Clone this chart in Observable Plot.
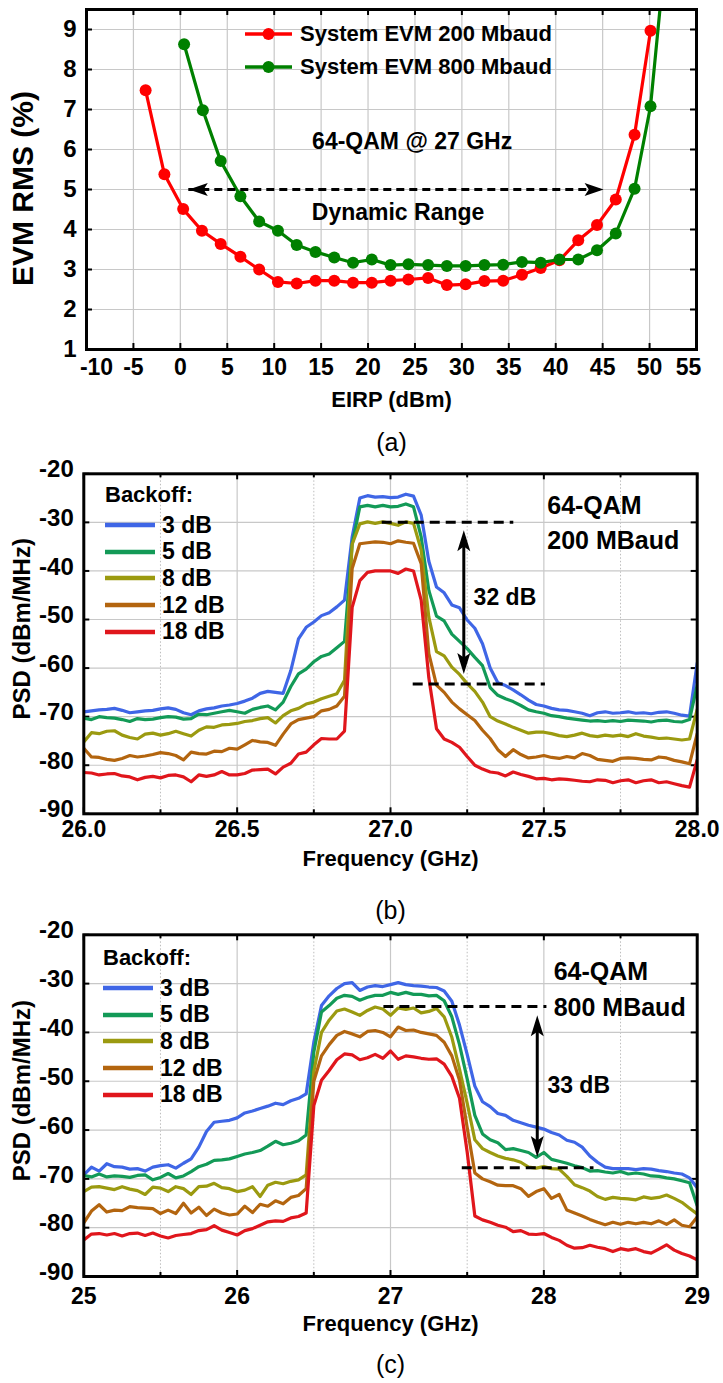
<!DOCTYPE html>
<html><head><meta charset="utf-8">
<script src="https://cdn.jsdelivr.net/npm/d3@7"></script>
<script src="https://cdn.jsdelivr.net/npm/@observablehq/plot@0.6"></script>
<style>
body{margin:0;background:#fff;}
#wrap{position:relative;width:723px;height:1383px;overflow:hidden;background:#fff;}
</style></head>
<body><div id="wrap"></div>
<script>
// ---------------- Panel (a) data ----------------
const eirp200 = [-3.7,-1.7,0.3,2.3,4.3,6.4,8.4,10.4,12.4,14.4,16.4,18.4,20.4,22.4,24.3,26.4,28.4,30.4,32.4,34.4,36.4,38.4,40.4,42.4,44.4,46.4,48.4,50.1];
const evm200 = [7.48,5.38,4.51,3.97,3.64,3.32,3.0,2.69,2.65,2.72,2.72,2.67,2.67,2.72,2.75,2.79,2.61,2.63,2.71,2.72,2.87,3.04,3.23,3.73,4.11,4.75,6.37,8.97];
const eirp800 = [0.4,2.4,4.3,6.4,8.4,10.4,12.4,14.4,16.4,18.4,20.4,22.4,24.3,26.4,28.4,30.4,32.4,34.4,36.4,38.4,40.4,42.4,44.4,46.4,48.4,50.1,52.1];
const evm800 = [8.63,6.98,5.71,4.83,4.2,3.97,3.61,3.44,3.3,3.17,3.25,3.11,3.13,3.11,3.09,3.09,3.11,3.12,3.19,3.17,3.25,3.25,3.48,3.9,5.02,7.08,11.9];
const seriesNamesA = ["System EVM 200 Mbaud", "System EVM 800 Mbaud"];
const xTicksA = [-10,-5,0,5,10,15,20,25,30,35,40,45,50,55];
const yTicksA = [1,2,3,4,5,6,7,8,9];
const dynRangeX = [0.9, 45.1];
const dynRangeEVM = 5;

// ---------------- Panel (b) data ----------------
const freqB = [26,26.025,26.05,26.075,26.1,26.125,26.15,26.175,26.2,26.225,
 26.25,26.275,26.3,26.325,26.35,26.375,26.4,26.425,26.45,26.475,
 26.5,26.525,26.55,26.575,26.6,26.625,26.65,26.675,26.7,26.725,
 26.75,26.775,26.8,26.825,26.85,26.875,26.9,26.925,26.95,26.975,
 27,27.025,27.05,27.075,27.1,27.125,27.15,27.175,27.2,27.225,
 27.25,27.275,27.3,27.325,27.35,27.375,27.4,27.425,27.45,27.475,
 27.5,27.525,27.55,27.575,27.6,27.625,27.65,27.675,27.7,27.725,
 27.75,27.775,27.8,27.825,27.85,27.875,27.9,27.925,27.95,27.975,28];
const psdB3 = [-69.0,-68.8,-68.6,-68.5,-68.3,-68.7,-69.2,-69.0,-68.8,-68.7,
 -68.4,-68.2,-68.5,-69.2,-69.6,-68.8,-68.4,-68.2,-67.8,-67.6,
 -67.3,-66.8,-66.2,-65.2,-64.8,-65.0,-65.2,-60.5,-54.0,-51.6,
 -50.5,-49.2,-48.6,-47.4,-46.0,-33.0,-25.0,-24.5,-24.8,-24.7,
 -24.9,-24.8,-24.2,-24.6,-28.5,-38.0,-43.3,-44.5,-47.0,-47.6,
 -50.1,-51.8,-55.0,-60.0,-63.0,-63.6,-64.5,-65.5,-66.6,-67.5,
 -67.8,-68.3,-68.6,-68.7,-69.0,-69.3,-69.8,-69.2,-69.0,-69.3,
 -69.2,-69.0,-69.3,-69.2,-69.4,-69.1,-69.0,-69.3,-69.7,-69.9,-59.0];
const psdB5 = [-70.3,-70.6,-70.0,-70.2,-70.3,-70.6,-71.0,-70.4,-70.6,-70.5,
 -70.2,-70.0,-70.1,-70.5,-70.4,-69.5,-69.6,-69.3,-69.0,-68.7,
 -69.0,-69.3,-68.5,-68.1,-67.8,-68.6,-67.0,-63.8,-61.2,-60.2,
 -58.7,-57.6,-57.1,-55.8,-54.5,-34.5,-26.8,-26.5,-26.8,-26.5,
 -26.8,-26.7,-26.2,-26.8,-33.0,-44.0,-49.3,-50.3,-53.0,-54.5,
 -56.0,-57.8,-59.5,-64.0,-65.6,-66.3,-66.9,-67.7,-68.6,-69.0,
 -69.3,-69.8,-70.0,-70.3,-70.5,-70.7,-70.9,-70.8,-71.0,-70.8,
 -71.0,-70.7,-70.8,-70.9,-71.1,-70.8,-70.7,-71.0,-71.1,-70.6,-63.5];
const psdB8 = [-75.2,-73.3,-73.5,-73.0,-72.9,-73.8,-74.3,-74.6,-73.6,-73.4,
 -73.8,-73.5,-73.0,-73.5,-74.0,-72.8,-72.1,-72.2,-71.7,-71.6,
 -71.4,-71.0,-70.8,-70.4,-70.2,-71.3,-69.8,-68.8,-68.3,-67.4,
 -67.0,-66.3,-65.8,-65.3,-62.5,-34.5,-30.3,-29.9,-30.2,-29.9,
 -30.2,-30.6,-29.9,-30.2,-35.7,-49.5,-56.6,-57.5,-59.8,-61.3,
 -63.2,-64.8,-67.0,-70.0,-70.9,-71.5,-72.2,-72.8,-73.4,-73.2,
 -73.2,-73.5,-73.9,-74.1,-73.8,-73.4,-73.9,-74.1,-73.8,-74.0,
 -73.8,-74.1,-73.5,-74.0,-74.2,-74.5,-74.4,-74.6,-74.8,-74.6,-68.5];
const psdB12 = [-76.5,-78.3,-78.4,-78.8,-79.0,-78.6,-78.0,-78.3,-78.1,-77.8,
 -77.4,-77.6,-78.0,-78.9,-77.3,-77.6,-77.7,-77.1,-77.2,-76.5,
 -76.7,-75.8,-74.9,-75.2,-75.3,-75.9,-73.6,-71.5,-70.6,-70.3,
 -70.0,-68.8,-68.5,-67.8,-65.8,-39.5,-34.4,-34.2,-34.0,-34.1,
 -34.4,-33.8,-34.1,-34.3,-38.5,-57.0,-63.5,-65.0,-67.0,-68.4,
 -69.6,-70.8,-72.8,-74.5,-76.8,-78.2,-76.8,-77.8,-78.5,-78.3,
 -78.0,-78.4,-78.6,-78.2,-78.5,-77.6,-78.0,-78.8,-79.0,-79.2,
 -78.6,-78.5,-78.6,-78.8,-78.9,-78.3,-78.5,-79.0,-79.3,-79.7,-73.5];
const psdB18 = [-81.5,-81.6,-82.0,-81.8,-81.7,-82.2,-82.4,-83.0,-82.5,-82.3,
 -82.6,-82.1,-82.0,-82.4,-83.4,-82.0,-82.3,-82.0,-81.3,-82.0,
 -82.0,-81.7,-81.0,-80.9,-80.8,-81.8,-80.4,-79.6,-77.7,-77.3,
 -75.8,-74.5,-74.6,-74.6,-73.0,-47.5,-42.0,-40.3,-40.0,-40.0,
 -40.0,-40.5,-39.6,-40.0,-46.0,-62.0,-72.5,-74.6,-75.3,-76.3,
 -78.2,-80.0,-80.8,-81.4,-81.6,-82.2,-81.4,-81.9,-82.3,-82.8,
 -82.7,-83.0,-82.8,-82.9,-83.1,-83.3,-83.4,-83.0,-83.1,-83.6,
 -83.2,-83.0,-83.6,-83.2,-83.0,-83.6,-83.4,-83.8,-84.2,-84.5,-78.9];
const levelsB = [-30, -63.3];
const levelsBx1 = [26.973, 27.074];
const levelsBx2 = [27.402, 27.505];
const arrowBx = 27.239;
const arrowBy = [-31.6, -61.2];

// ---------------- Panel (c) data ----------------
const freqC = [25,25.05,25.1,25.15,25.2,25.25,25.3,25.35,25.4,25.45,
 25.5,25.55,25.6,25.65,25.7,25.75,25.8,25.85,25.9,25.95,
 26,26.05,26.1,26.15,26.2,26.25,26.3,26.35,26.4,26.45,
 26.5,26.55,26.6,26.65,26.7,26.75,26.8,26.85,26.9,26.95,
 27,27.05,27.1,27.15,27.2,27.25,27.3,27.35,27.4,27.45,
 27.5,27.55,27.6,27.65,27.7,27.75,27.8,27.85,27.9,27.95,
 28,28.05,28.1,28.15,28.2,28.25,28.3,28.35,28.4,28.45,
 28.5,28.55,28.6,28.65,28.7,28.75,28.8,28.85,28.9,28.95,29];
const psdC3 = [-69.2,-67.6,-68.4,-66.9,-67.5,-67.6,-68.0,-67.9,-68.4,-67.6,
 -67.3,-67.1,-67.8,-66.8,-65.9,-63.5,-60.3,-58.4,-58.2,-58.0,
 -57.5,-56.5,-56.1,-55.6,-55.1,-54.5,-54.8,-54.0,-53.5,-52.6,
 -42.0,-34.5,-32.5,-31.0,-30.0,-29.8,-31.4,-30.7,-30.4,-30.6,
 -30.2,-29.8,-30.2,-30.4,-30.5,-30.7,-30.8,-31.5,-33.6,-38.5,
 -44.5,-51.0,-54.2,-55.2,-56.6,-57.0,-58.0,-58.5,-59.0,-59.4,
 -59.8,-60.5,-61.0,-62.1,-62.5,-63.5,-65.3,-66.6,-67.6,-67.9,
 -67.9,-67.9,-68.1,-67.9,-68.0,-68.3,-68.5,-68.8,-69.0,-69.8,-71.8];
const psdC5 = [-69.3,-69.6,-69.0,-69.6,-69.4,-69.5,-69.7,-69.3,-69.2,-70.2,
 -69.7,-68.9,-69.8,-69.4,-68.5,-67.5,-67.0,-66.2,-66.1,-65.9,
 -65.4,-64.9,-64.6,-64.2,-63.3,-62.3,-63.0,-62.7,-62.2,-61.0,
 -44.0,-35.8,-34.5,-33.0,-32.4,-32.6,-33.4,-32.8,-32.4,-32.4,
 -31.8,-32.2,-31.8,-32.2,-32.2,-32.5,-32.4,-33.5,-36.8,-42.5,
 -49.5,-57.0,-60.8,-62.0,-62.6,-64.0,-63.8,-64.2,-64.6,-65.6,
 -64.6,-66.0,-66.4,-66.8,-67.3,-67.7,-68.4,-68.3,-68.6,-68.8,
 -68.5,-69.0,-68.8,-69.0,-69.4,-69.5,-69.8,-70.0,-70.4,-70.8,-75.5];
const psdC8 = [-72.6,-71.7,-71.6,-71.9,-72.2,-71.6,-72.1,-72.4,-73.2,-71.7,
 -71.9,-72.6,-71.6,-72.0,-73.2,-71.6,-71.5,-70.9,-71.8,-72.0,
 -72.6,-72.3,-71.6,-73.6,-71.3,-70.7,-71.0,-70.5,-70.2,-69.2,
 -48.0,-40.0,-37.5,-35.6,-35.2,-35.8,-36.5,-35.5,-34.8,-35.2,
 -36.5,-35.0,-35.3,-35.0,-36.0,-35.7,-35.1,-36.8,-41.0,-47.5,
 -54.5,-62.0,-63.8,-64.6,-65.3,-65.8,-66.1,-66.6,-67.6,-67.8,
 -67.5,-67.9,-68.0,-69.5,-71.2,-71.8,-72.5,-73.6,-74.2,-73.8,
 -74.0,-74.1,-74.3,-73.7,-74.0,-73.8,-73.3,-74.0,-74.8,-76.0,-77.2];
const psdC12 = [-79.0,-76.6,-75.3,-76.8,-76.4,-76.5,-75.7,-75.9,-76.0,-76.1,
 -77.1,-76.4,-77.1,-75.0,-77.0,-75.8,-77.5,-76.2,-77.0,-77.4,
 -77.2,-75.6,-76.9,-75.2,-75.6,-74.5,-75.1,-73.8,-73.4,-72.0,
 -50.0,-44.8,-42.5,-40.6,-39.8,-40.3,-40.9,-39.8,-39.6,-40.0,
 -40.9,-38.9,-39.6,-39.5,-40.0,-40.3,-40.6,-42.0,-44.8,-49.8,
 -59.5,-68.8,-70.0,-70.6,-71.3,-71.4,-71.4,-72.0,-73.6,-72.6,
 -72.0,-74.0,-73.2,-76.4,-77.0,-77.6,-78.3,-78.9,-79.4,-78.9,
 -79.3,-78.9,-79.2,-78.9,-79.2,-78.6,-79.3,-78.4,-79.5,-79.8,-77.8];
const psdC18 = [-82.5,-81.3,-81.2,-81.5,-81.2,-81.7,-81.2,-81.1,-81.6,-81.1,
 -81.7,-82.1,-81.6,-81.4,-81.2,-80.6,-80.4,-79.6,-80.5,-81.0,
 -81.5,-80.6,-80.2,-79.5,-78.8,-78.6,-78.7,-78.0,-77.7,-77.0,
 -55.0,-49.8,-47.8,-45.6,-44.4,-44.6,-45.6,-45.2,-44.5,-45.3,
 -43.8,-45.5,-44.8,-45.0,-45.3,-45.5,-45.4,-46.5,-49.0,-53.5,
 -64.5,-77.6,-78.4,-78.9,-79.5,-79.9,-80.8,-80.6,-81.3,-81.4,
 -81.2,-82.0,-82.6,-83.6,-84.2,-84.1,-83.6,-84.0,-84.3,-84.9,
 -84.3,-84.6,-84.3,-84.9,-85.2,-84.4,-83.5,-84.6,-85.3,-85.8,-86.6];
const levelsC = [-34.7, -67.7];
const levelsCx1 = [26.957, 27.468];
const levelsCx2 = [28.02, 28.327];
const arrowCx = 27.957;
const arrowCy = [-36.5, -65.5];

const backoffLabels = ["3 dB", "5 dB", "8 dB", "12 dB", "18 dB"];
const backoffColors = ["#3f66e6", "#139a57", "#9b9a10", "#b3650f", "#e0161c"];
const colorsA = ["#ff0000", "#008000"];

// ---------------- helpers ----------------
const FONT = '"Liberation Sans", Arial, Helvetica, sans-serif';
const W = 723;
const wrap = document.getElementById("wrap");
function place(el, top) {
  const d = document.createElement("div");
  d.style.cssText = `position:absolute;left:0;top:${top}px;`;
  d.appendChild(el);
  wrap.appendChild(d);
}
const headShape = {
  draw(ctx, l, r) {
    ctx.moveTo(0, -l);
    ctx.lineTo(r, 0);
    ctx.lineTo(0, -l * 0.22);
    ctx.lineTo(-r, 0);
    ctx.closePath();
  }
};
const gridColor = "#c8c8c8";
function frameTicks(xMajor, xMinor, yMajor, fw, fh) {
  const s = {stroke: "black", strokeWidth: 2};
  const marks = [
    Plot.ruleX(xMajor, {...s, insetTop: fh - 6}),
    Plot.ruleX(xMajor, {...s, insetBottom: fh - 6}),
    Plot.ruleY(yMajor, {...s, insetRight: fw - 6}),
    Plot.ruleY(yMajor, {...s, insetLeft: fw - 6})
  ];
  if (xMinor.length) {
    marks.push(Plot.ruleX(xMinor, {...s, insetTop: fh - 4}));
    marks.push(Plot.ruleX(xMinor, {...s, insetBottom: fh - 4}));
  }
  return marks;
}
function legendRow(cx, cy, lineW, gap, color, label, fontSize, withDot) {
  const row = document.createElement("div");
  row.style.cssText = `position:absolute;left:${cx}px;top:${cy - 15}px;height:30px;display:flex;align-items:center;font:bold ${fontSize}px ${FONT};white-space:nowrap;color:#000;`;
  const svg = d3.create("svg").attr("width", lineW).attr("height", 14).style("overflow", "visible").style("display", "block");
  svg.append("line").attr("x1", 0).attr("x2", lineW).attr("y1", 7).attr("y2", 7)
    .attr("stroke", color).attr("stroke-width", withDot ? 3.5 : 4.5);
  if (withDot) svg.append("circle").attr("cx", lineW / 2).attr("cy", 7).attr("r", 6).attr("fill", color);
  row.appendChild(svg.node());
  const span = document.createElement("span");
  span.textContent = label;
  span.style.marginLeft = gap + "px";
  row.appendChild(span);
  wrap.appendChild(row);
}
const xTickFont = {fontSize: 23, fontWeight: "bold", fontFamily: FONT};
const yTickFont = {fontSize: 24, fontWeight: "bold", fontFamily: FONT};
const titleStyle = {fontWeight: "bold", lineAnchor: "middle", textAnchor: "middle"};
const fmt = d => String(d);

// ---------------- Panel (a) ----------------
{
  const mL = 86, mR = 27, mT = 9, H = 455, mB = 106;
  const fw = W - mL - mR, fh = H - mT - mB;
  const d200 = eirp200.map((x, i) => ({x, y: evm200[i]}));
  const d800 = eirp800.map((x, i) => ({x, y: evm800[i]}));
  const xAxisOpts = {tickSize: 0, tickPadding: 9, label: null, tickFormat: fmt, ...xTickFont};
  const p = Plot.plot({
    width: W, height: H, marginLeft: mL, marginRight: mR, marginTop: mT, marginBottom: mB,
    style: {background: "transparent", overflow: "visible", fontFamily: FONT},
    x: {domain: [-10, 55]},
    y: {domain: [1, 9.5]},
    marks: [
      Plot.ruleX(xTicksA.slice(1, -1), {stroke: gridColor, strokeWidth: 1.2}),
      Plot.ruleY(yTicksA.slice(1), {stroke: gridColor, strokeWidth: 1.2}),
      ...frameTicks(xTicksA, [], yTicksA, fw, fh),
      Plot.line(d200, {x: "x", y: "y", stroke: colorsA[0], strokeWidth: 3.2, clip: true}),
      Plot.dot(d200, {x: "x", y: "y", r: 6, fill: colorsA[0], clip: true}),
      Plot.line(d800, {x: "x", y: "y", stroke: colorsA[1], strokeWidth: 3.2, clip: true}),
      Plot.dot(d800, {x: "x", y: "y", r: 6, fill: colorsA[1], clip: true}),
      Plot.ruleY([dynRangeEVM], {x1: dynRangeX[0], x2: dynRangeX[1], stroke: "black", strokeWidth: 3, strokeDasharray: "8,5"}),
      Plot.vector(dynRangeX, {x: d => d, y: dynRangeEVM, rotate: (d, i) => i === 0 ? -90 : 90, anchor: "end", length: 19, r: 6.5, shape: headShape, fill: "black", stroke: "none"}),
      Plot.text(["64-QAM @ 27 GHz"], {x: 24.7, y: 6.19, fontSize: 23, fontWeight: "bold"}),
      Plot.text(["Dynamic Range"], {x: 23.2, y: 4.43, fontSize: 23, fontWeight: "bold"}),
      Plot.axisX(xTicksA.slice(1, -1), xAxisOpts),
      Plot.axisX(xTicksA.slice(0, 1), {...xAxisOpts, dx: 10}),
      Plot.axisX(xTicksA.slice(-1), {...xAxisOpts, dx: -8}),
      Plot.axisY(yTicksA, {tickSize: 0, tickPadding: 10, label: null, tickFormat: fmt, ...yTickFont}),
      Plot.frame({stroke: "black", strokeWidth: 3}),
      Plot.text(["EIRP (dBm)"], {frameAnchor: "bottom", dy: 50, fontSize: 22, ...titleStyle}),
      Plot.text(["EVM RMS (%)"], {frameAnchor: "left", dx: -63, dy: 9, rotate: -90, fontSize: 30, ...titleStyle}),
      Plot.text(["(a)"], {frameAnchor: "bottom", dy: 93, fontSize: 25, lineAnchor: "middle"})
    ]
  });
  place(p, 0);
  legendRow(245, 34, 47, 8, colorsA[0], seriesNamesA[0], 22, true);
  legendRow(245, 67, 47, 8, colorsA[1], seriesNamesA[1], 22, true);
}

// ---------------- Panels (b) and (c) ----------------
function psdPanel({top, H, mT, mB, xDomain, freq, series, xMajor, xMinor, xFmt, levels, lx1, lx2, ax, ay,
                   txt1, txt2, txtX, txt1Y, txt2Y, dbText, dbX, dbY, cap, capDy, xPad, titleDy, yDy, ylabDy, legendTop, legendLeft}) {
  const mL = 83.3, mR = 26.3;
  const fw = W - mL - mR, fh = H - mT - mB;
  const yTicks = [-90, -80, -70, -60, -50, -40, -30, -20];
  const lines = series.map((vals, k) => Plot.line(freq.map((f, i) => ({f, v: vals[i]})),
    {x: "f", y: "v", stroke: backoffColors[k], strokeWidth: 3.2, strokeLinejoin: "round", clip: true}));
  const p = Plot.plot({
    width: W, height: H, marginLeft: mL, marginRight: mR, marginTop: mT, marginBottom: mB,
    style: {background: "transparent", overflow: "visible", fontFamily: FONT},
    x: {domain: xDomain},
    y: {domain: [-90, -20]},
    marks: [
      Plot.ruleX(xMinor, {stroke: "#bdbdbd", strokeWidth: 1, strokeDasharray: "1.5,2"}),
      Plot.ruleX(xMajor.slice(1, -1), {stroke: gridColor, strokeWidth: 1.2}),
      Plot.ruleY(yTicks.slice(1, -1), {stroke: gridColor, strokeWidth: 1.2}),
      ...frameTicks(xMajor, xMinor, yTicks, fw, fh),
      ...lines,
      Plot.ruleY(levels, {x1: (d, i) => lx1[i], x2: (d, i) => lx2[i], stroke: "black", strokeWidth: 3, strokeDasharray: "10,6"}),
      Plot.ruleX([ax], {y1: ay[0] - 3, y2: ay[1] + 3, stroke: "black", strokeWidth: 3}),
      Plot.vector(ay, {x: ax, y: d => d, rotate: (d, i) => i === 0 ? 0 : 180, anchor: "end", length: 21, r: 6.5, shape: headShape, fill: "black", stroke: "none"}),
      Plot.text([txt1], {x: txtX, y: txt1Y, textAnchor: "start", fontSize: 25, fontWeight: "bold"}),
      Plot.text([txt2], {x: txtX, y: txt2Y, textAnchor: "start", fontSize: 25, fontWeight: "bold"}),
      Plot.text([dbText], {x: dbX, y: dbY, textAnchor: "start", fontSize: 23, fontWeight: "bold"}),
      Plot.axisX(xMajor, {tickSize: 0, tickPadding: xPad, label: null, tickFormat: xFmt, ...xTickFont}),
      Plot.axisY(yTicks, {tickSize: 0, tickPadding: 10, label: null, dy: yDy, tickFormat: fmt, ...yTickFont}),
      Plot.frame({stroke: "black", strokeWidth: 3}),
      Plot.text(["Frequency (GHz)"], {frameAnchor: "bottom", dy: titleDy, fontSize: 22, ...titleStyle}),
      Plot.text(["PSD (dBm/MHz)"], {frameAnchor: "left", dx: -61, dy: ylabDy, rotate: -90, fontSize: 24, ...titleStyle}),
      Plot.text([cap], {frameAnchor: "bottom", dy: capDy, fontSize: 25, lineAnchor: "middle"})
    ]
  });
  place(p, top);
  const bk = document.createElement("div");
  bk.textContent = "Backoff:";
  bk.style.cssText = `position:absolute;left:${legendLeft}px;top:${legendTop - 15}px;height:30px;line-height:30px;font:bold 22px ${FONT};color:#000;`;
  wrap.appendChild(bk);
  backoffLabels.forEach((lab, k) => legendRow(legendLeft, legendTop + 28 + k * 26.7, 50, 7, backoffColors[k], lab, 23, false));
}

psdPanel({
  top: 455, H: 475, mT: 18.3, mB: 116.7, xDomain: [26, 28], freq: freqB,
  series: [psdB3, psdB5, psdB8, psdB12, psdB18],
  xMajor: [26, 26.5, 27, 27.5, 28], xMinor: [26.25, 26.75, 27.25, 27.75], xFmt: d => d.toFixed(1),
  levels: levelsB, lx1: levelsBx1, lx2: levelsBx2, ax: arrowBx, ay: arrowBy,
  txt1: "64-QAM", txt2: "200 MBaud", txtX: 27.511, txt1Y: -26.7, txt2Y: -33.9,
  dbText: "32 dB", dbX: 27.271, dbY: -45.4, cap: "(b)", capDy: 97, xPad: 7, titleDy: 45, yDy: -4, ylabDy: -15,
  legendTop: 497, legendLeft: 105
});
psdPanel({
  top: 920, H: 463, mT: 14.3, mB: 107, xDomain: [25, 29], freq: freqC,
  series: [psdC3, psdC5, psdC8, psdC12, psdC18],
  xMajor: [25, 26, 27, 28, 29], xMinor: [25.5, 26.5, 27.5, 28.5], xFmt: fmt,
  levels: levelsC, lx1: levelsCx1, lx2: levelsCx2, ax: arrowCx, ay: arrowCy,
  txt1: "64-QAM", txt2: "800 MBaud", txtX: 28.064, txt1Y: -27.7, txt2Y: -34.9,
  dbText: "33 dB", dbX: 28.023, dbY: -51.0, cap: "(c)", capDy: 88, xPad: 11, titleDy: 47, yDy: -4, ylabDy: -15,
  legendTop: 960, legendLeft: 103
});
</script>
</body></html>
